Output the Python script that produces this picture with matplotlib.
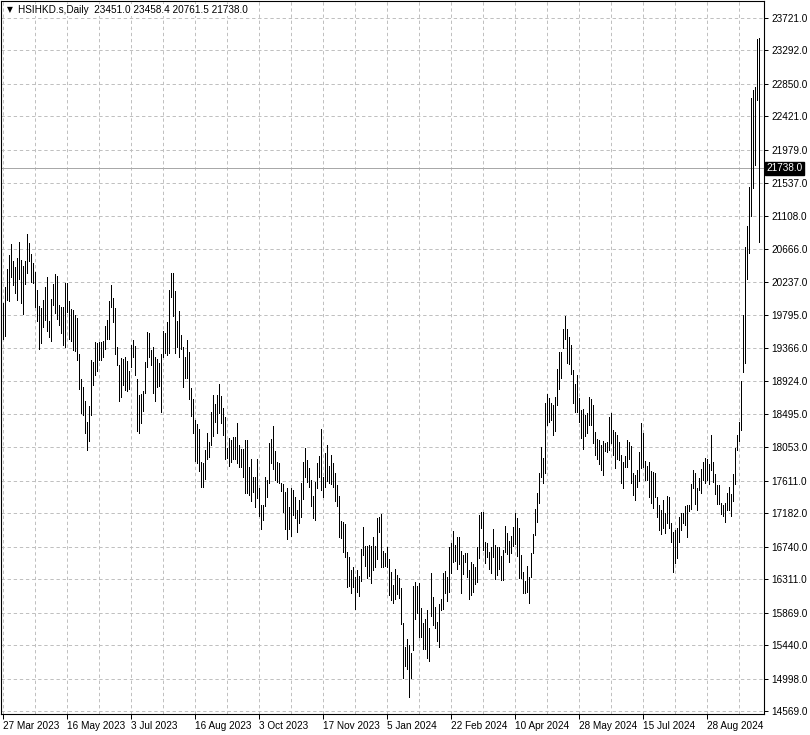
import matplotlib
matplotlib.use("Agg")
import matplotlib.pyplot as plt
import matplotlib.transforms as mtransforms
import numpy as np

plt.rcParams['font.family'] = ['Liberation Sans', 'DejaVu Sans']
plt.rcParams['lines.scale_dashes'] = False

symbol = "HSIHKD.s,Daily"
last_ohlc = [23451.0, 23458.4, 20761.5, 21738.0]

date_labels = ["27 Mar 2023", "16 May 2023", "3 Jul 2023", "16 Aug 2023", "3 Oct 2023",
               "17 Nov 2023", "5 Jan 2024", "22 Feb 2024", "10 Apr 2024", "28 May 2024",
               "15 Jul 2024", "28 Aug 2024"]

price_ticks = [14569.0, 14998.0, 15440.0, 15869.0, 16311.0, 16740.0, 17182.0, 17611.0,
               18053.0, 18495.0, 18924.0, 19366.0, 19795.0, 20237.0, 20666.0, 21108.0,
               21537.0, 21979.0, 22421.0, 22850.0, 23292.0, 23721.0]

highs = [
    19957, 20169, 20406, 20591, 20736, 20512, 20433, 20552, 20763, 20525,
    20446, 20512, 20869, 20750, 20604, 20486, 20367, 20129, 19918, 19891,
    19997, 20169, 20301, 19720, 20010, 20208, 20340, 20314, 19931, 19904,
    19904, 20221, 20221, 19984, 19878, 19865, 19799, 19759, 19284, 18954,
    18848, 18663, 18386, 18597, 19205, 19178, 19442, 19429, 19442, 19442,
    19455, 19653, 19733, 19984, 20195, 20023, 19891, 19376, 19139, 19231,
    19218, 19244, 19191, 19059, 19403, 19469, 19389, 18954, 18742, 18756,
    18795, 19178, 19574, 19561, 19337, 19376, 19244, 19218, 19165, 19284,
    19588, 19561, 19706, 20129, 20354, 20354, 20116, 19720, 19852, 19535,
    19376, 19244, 19469, 19310, 18835, 18690, 18412, 18359, 18293, 17858,
    17844, 18016, 18241, 18122, 18518, 18742, 18624, 18742, 18888, 18729,
    18571, 18452, 18042, 18174, 18148, 18188, 18188, 18373, 18082, 18029,
    18029, 18148, 18148, 17791, 17897, 17659, 17659, 17897, 17514, 17290,
    17290, 17659, 17620, 18108, 18161, 18333, 18003, 17858, 17844, 17580,
    17567, 17461, 17514, 17263, 17514, 17488, 17395, 17224, 17356, 17580,
    17858, 18042, 17884, 17778, 17620, 17409, 17593, 17844, 17937, 18293,
    17659, 17976, 18082, 17805, 17950, 17844, 17712, 17554, 17409, 17078,
    17065, 17039, 16669, 16603, 16431, 16471, 16339, 16431, 16352, 16709,
    16999, 16748, 16748, 16761, 16748, 16867, 16748, 17118, 17131, 17171,
    16682, 16656, 16735, 16577, 16405, 16233, 16445, 16365, 16326, 16194,
    15731, 15414, 15520, 15441, 15335, 16220, 16273, 16220, 16260, 15929,
    15731, 15784, 15903, 15665, 16392, 16075, 15943, 15745, 15982, 16048,
    16392, 16418, 16339, 16735, 16788, 16946, 16761, 16867, 16867, 16682,
    16629, 16656, 16656, 16431, 16537, 16511, 16471, 16735, 17158, 17197,
    17197, 16801, 16788, 16669, 16735, 16973, 16761, 16735, 16735, 16616,
    16695, 17012, 16920, 16814, 16880, 16999, 17184, 17118, 16986, 16629,
    16405, 16286, 16484, 16339, 16656, 16907, 17237, 17448, 17712, 18056,
    17910, 18637, 18756, 18703, 18637, 18610, 18716, 19086, 19310, 19310,
    19614, 19786, 19614, 19508, 19403, 19073, 18888, 19006, 18703, 18544,
    18557, 18478, 18505, 18716, 18690, 18610, 18254, 18161, 18148, 18082,
    18135, 18108, 18122, 18452, 18505, 18280, 18254, 18214, 18122, 17950,
    17858, 17937, 18148, 18122, 18069, 17712, 17686, 17752, 17990, 18373,
    18241, 17871, 17805, 17858, 17739, 17725, 17712, 17395, 17290, 17224,
    17356, 17184, 17409, 17395, 17052, 16933, 16960, 16986, 17131, 17184,
    17184, 17276, 17290, 17290, 17567, 17752, 17712, 17514, 17646, 17765,
    17858, 17910, 17897, 17831, 18214, 17858, 17699, 17554, 17554, 17316,
    17290, 17316, 17448, 17527, 17435, 17699, 18042, 18214, 18386, 18927,
    19799, 20697, 20974, 21489, 22665, 22770, 22810, 23440, 23458.4,
]

lows = [
    19482, 19521, 19997, 19984, 20301, 20195, 20089, 19997, 20274, 19957,
    19812, 20208, 20354, 20512, 20235, 20221, 19904, 19720, 19350, 19429,
    19640, 19733, 19588, 19508, 19455, 19931, 19825, 19746, 19667, 19561,
    19403, 19376, 19838, 19482, 19455, 19337, 19323, 19205, 18822, 18505,
    18478, 18241, 18016, 18135, 18478, 18874, 19006, 19059, 19205, 19205,
    19244, 19350, 19482, 19482, 19904, 19706, 19284, 19139, 18663, 18716,
    18874, 18808, 18795, 18822, 19112, 19244, 19006, 18267, 18241, 18373,
    18531, 18769, 19112, 19244, 19139, 18769, 18663, 18848, 18861, 18518,
    19244, 19297, 19271, 19297, 20037, 19786, 19297, 19376, 19244, 19350,
    18848, 18967, 18967, 18690, 18465, 18241, 17871, 17844, 17739, 17527,
    17527, 17633, 17897, 17924, 18082, 18201, 18386, 18241, 18505, 18373,
    18214, 17897, 17910, 17805, 17858, 17897, 17897, 17844, 17791, 17791,
    17659, 17448, 17448, 17422, 17342, 17461, 17263, 17382, 17144, 16973,
    17092, 17276, 17395, 17580, 17844, 17765, 17620, 17593, 17580, 17475,
    17197, 16973, 16841, 16973, 16880, 17158, 17118, 16933, 17052, 17131,
    17369, 17659, 17593, 17527, 17276, 17118, 17092, 17514, 17659, 17488,
    17395, 17527, 17607, 17580, 17567, 17527, 17342, 17276, 16867, 16854,
    16669, 16603, 16207, 16220, 16128, 16207, 15916, 16141, 16088, 16286,
    16629, 16484, 16326, 16352, 16260, 16431, 16471, 16577, 16933, 16471,
    16471, 16484, 16471, 16101, 16035, 15996, 16048, 16114, 16062, 15718,
    15005, 15164, 15124, 14754, 15005, 15375, 15784, 15863, 15546, 15546,
    15388, 15388, 15269, 15230, 15824, 15705, 15665, 15494, 15414, 15903,
    15916, 16128, 16022, 16141, 16392, 16537, 16550, 16445, 16511, 16128,
    16378, 16537, 16339, 16048, 16101, 16141, 16246, 16273, 16590, 16986,
    16695, 16524, 16603, 16445, 16392, 16603, 16312, 16365, 16445, 16299,
    16299, 16669, 16643, 16537, 16656, 16748, 16775, 16616, 16326, 16326,
    16128, 16128, 16141, 15996, 16339, 16656, 16894, 17065, 17316, 17659,
    17580, 17712, 18346, 18386, 18412, 18214, 18267, 18610, 18822, 18967,
    19363, 19482, 19165, 19152, 19020, 18637, 18518, 18518, 18386, 18174,
    18029, 18201, 18241, 18346, 18346, 18108, 17950, 17897, 17831, 17752,
    17686, 18003, 17990, 18016, 18108, 17950, 17778, 17897, 17884, 17580,
    17514, 17791, 17791, 17897, 17580, 17422, 17356, 17527, 17607, 17778,
    17791, 17620, 17620, 17395, 17316, 17250, 17395, 17131, 16960, 16907,
    16986, 16920, 17052, 16986, 16801, 16405, 16524, 16590, 16801, 16960,
    17052, 17026, 16867, 17210, 17237, 17514, 17303, 17224, 17488, 17448,
    17620, 17580, 17620, 17567, 17752, 17593, 17435, 17303, 17303, 17171,
    17144, 17065, 17224, 17224, 17144, 17342, 17567, 18016, 18135, 18280,
    19046, 19165, 20274, 20618, 21106, 21476, 21780, 22638, 20761.5,
]

n = min(len(highs), len(lows))
x = np.arange(n)

W, H = 810, 735
fig = plt.figure(figsize=(W / 100, H / 100), dpi=100)
fig.patch.set_facecolor('white')
ax = fig.add_axes([1 / W, (H - 714) / H, (764 - 1) / W, (714 - 1) / H])
ax.set_facecolor('white')

ax.set_xlim(-1.15, 380.35)
ax.set_ylim(14529.6, 23945.5)

grid_kw = dict(color='#c0c0c0', linewidth=0.72, linestyle=(0, (2.4, 2.0)), zorder=0)
for gx in np.arange(0, 380, 16):
    ax.axvline(gx, **grid_kw)
for gy in price_ticks:
    ax.axhline(gy, **grid_kw)

ax.axhline(last_ohlc[3], color='#a8a8a8', linewidth=0.72, zorder=1)

ax.vlines(x, np.array(lows[:n]), np.array(highs[:n]), colors='black',
          linewidth=0.72, antialiased=False, zorder=3)

for s in ax.spines.values():
    s.set_color('black')
    s.set_linewidth(0.8)

ax.yaxis.tick_right()
ax.set_yticks(price_ticks)
ax.set_yticklabels([f"{p:.1f}" for p in price_ticks])
ax.tick_params(axis='y', which='major', direction='out', length=3, width=0.72,
               pad=2, labelsize=7.2, colors='black')

ax.set_xticks(np.arange(len(date_labels)) * 32)
ax.set_xticklabels(date_labels, ha='left')
ax.tick_params(axis='x', which='major', direction='out', length=3.5, width=0.72,
               pad=1.5, labelsize=7.2, colors='black')

# current price label on the price scale
trans = mtransforms.blended_transform_factory(ax.transAxes, ax.transData)
ax.text(1.003, last_ohlc[3], f"{last_ohlc[3]:.1f}", transform=trans, ha='left', va='center',
        fontsize=7.2, color='white', clip_on=False, zorder=6,
        bbox=dict(boxstyle='square,pad=0.15', facecolor='black', edgecolor='black'))

# header
header = f"{symbol}  " + " ".join(f"{v:.1f}" for v in last_ohlc)
fig.text(7 / W, 1 - 10 / H, "\u25bc", fontsize=5.5, va='center', ha='left',
         family=['DejaVu Sans'], color='black')
fig.text(18 / W, 1 - 10 / H, header, fontsize=7.2, va='center', ha='left', color='black',
         bbox=dict(boxstyle='square,pad=0.1', facecolor='white', edgecolor='none'))

fig.savefig("out.png", dpi=100)
